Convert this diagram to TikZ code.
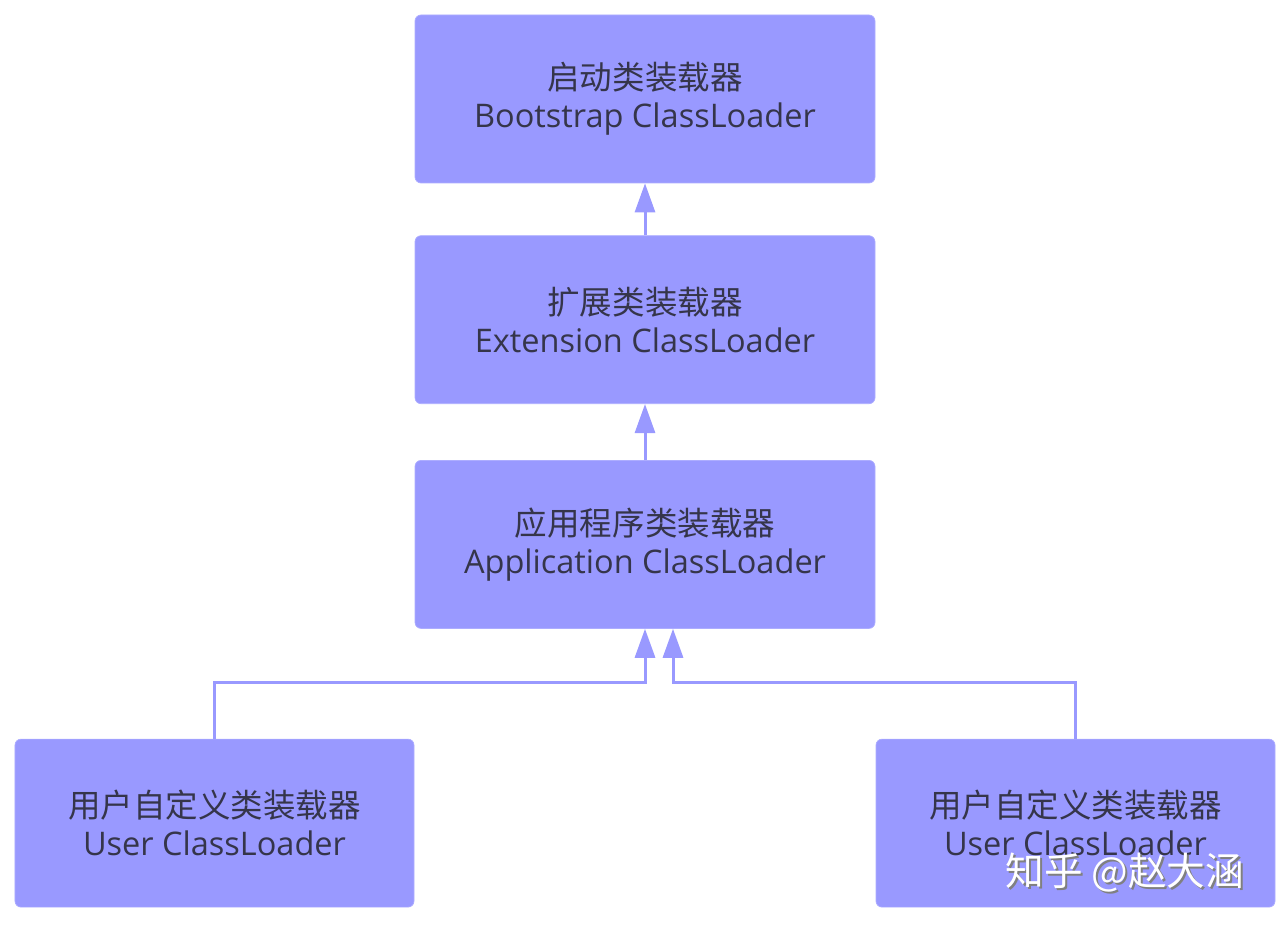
\documentclass[tikz,border=0pt]{standalone}
\usepackage{fontspec}
\setmainfont{Open Sans}
\newfontfamily\cjk{Noto Sans CJK SC}
\usepackage{tikz}
\usetikzlibrary{positioning}
\usetikzlibrary{arrows.meta}
\definecolor{loaderfill}{HTML}{9999FF}
\definecolor{loadertext}{HTML}{35354A}

\begin{document}
\begin{tikzpicture}[node distance=1.04cm,>={Triangle[width=0.4cm,length=0.58cm]},
                    loader/.style=     {rectangle,rounded corners=0.12cm,fill=loaderfill,draw=loaderfill!80,
                                        minimum width=9.2cm,minimum height=3.36cm,align=center,
                                        text=loadertext,font=\fontsize{18.5}{21.5}\selectfont},
                    user loader/.style={loader,minimum width=7.98cm},
                    link/.style=       {->,draw=loaderfill,line width=0.06cm},
                    watermark/.style=  {font=\cjk\fontsize{22}{26}\selectfont}]
      \useasboundingbox (0,0) rectangle (25.58,18.52);
      \node[loader] (boot) at (12.9,16.54) {{\cjk 启动类装载器}\\Bootstrap ClassLoader};
      \node[loader, below=1.04cm of boot] (ext) {{\cjk 扩展类装载器}\\Extension ClassLoader};
      \node[loader, below=1.12cm of ext] (app) {{\cjk 应用程序类装载器}\\Application ClassLoader};
      \node[user loader, below=2.2cm of app, xshift=-8.61cm] (userl) {{\cjk 用户自定义类装载器}\\User ClassLoader};
      \node[user loader, below=2.2cm of app, xshift=8.61cm] (userr) {{\cjk 用户自定义类装载器}\\User ClassLoader};
      % parent delegation
      \draw[link] (ext) -- (boot);
      \draw[link] (app) -- (ext);
      \draw[link] (userl.north) -- ++(0,1.12) -| (app.south);
      \draw[link] (userr.north) -- ++(0,1.12) -| ([xshift=0.56cm]app.south);
      % watermark
      \node[watermark, text=black!50] (wmshadow) at (22.54,1.02) {知乎 @赵大涵};
      \node[watermark, text=white] (wm) at (22.5,1.06) {知乎 @赵大涵};
\end{tikzpicture}
\end{document}
